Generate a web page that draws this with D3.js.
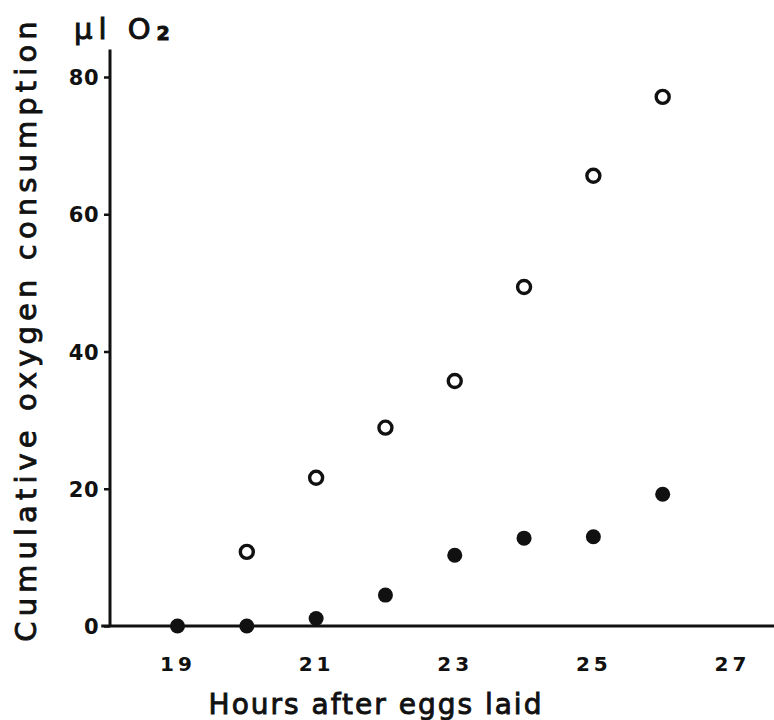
<!DOCTYPE html>
<html>
<head>
<meta charset="utf-8">
<script src="https://cdn.jsdelivr.net/npm/d3@7"></script>
<style>
  html, body { margin: 0; padding: 0; background: #fff; }
  svg text { font-family: "DejaVu Sans", sans-serif; fill: #111; }
</style>
</head>
<body>
<div id="chart"></div>
<script>
// hours after eggs laid, and the two oxygen series (µl O2)
const hours = [19, 20, 21, 22, 23, 24, 25, 26];
const openHours = [20, 21, 22, 23, 24, 25, 26];
const openValues = [10.8, 21.6, 28.9, 35.7, 49.4, 65.6, 77.1];
const filledValues = [0, 0, 1.1, 4.5, 10.3, 12.8, 13.0, 19.2];
const xTicks = [19, 21, 23, 25, 27];
const yTicks = [0, 20, 40, 60, 80];

const width = 774;
const height = 720;

const svg = d3.select("#chart")
    .append("svg")
    .attr("width", width)
    .attr("height", height);

const x = d3.scaleLinear().domain([19, 27]).range([177.5, 732]);
const y = d3.scaleLinear().domain([0, 80]).range([626, 77]);

// axis lines
svg.append("line")
    .attr("x1", x(17.9)).attr("x2", width)
    .attr("y1", y(0)).attr("y2", y(0))
    .attr("stroke", "#111").attr("stroke-width", 3);

svg.append("line")
    .attr("x1", 110).attr("x2", 110)
    .attr("y1", y(0) + 1).attr("y2", y(84))
    .attr("stroke", "#111").attr("stroke-width", 3);

// y ticks
const yAxis = svg.append("g")
    .attr("transform", "translate(110,0)")
    .call(d3.axisLeft(y).tickValues(yTicks).tickSize(6).tickPadding(5));
yAxis.select(".domain").remove();
yAxis.selectAll(".tick line").attr("stroke", "#111").attr("stroke-width", 2.5);
yAxis.selectAll("text")
    .style("font-size", "21px")
    .style("font-weight", "bold")
    .style("letter-spacing", "0.5px")
    .attr("dy", "0.36em");

// x ticks (labels only)
const xAxis = svg.append("g")
    .attr("transform", `translate(0,${y(0)})`)
    .call(d3.axisBottom(x).tickValues(xTicks).tickSize(0).tickPadding(31));
xAxis.select(".domain").remove();
xAxis.selectAll("text")
    .style("font-size", "20px")
    .style("font-weight", "bold")
    .style("letter-spacing", "4px");

// axis titles
svg.append("text")
    .attr("x", 376)
    .attr("y", 714)
    .attr("text-anchor", "middle")
    .style("font-size", "28px")
    .style("letter-spacing", "2px")
    .style("stroke", "#111")
    .style("stroke-width", "0.9px")
    .text("Hours after eggs laid");

svg.append("text")
    .attr("transform", "translate(36,329) rotate(-90)")
    .attr("text-anchor", "middle")
    .style("font-size", "29px")
    .style("letter-spacing", "5.1px")
    .style("stroke", "#111")
    .style("stroke-width", "0.9px")
    .text("Cumulative oxygen consumption");

svg.append("text")
    .attr("x", 74)
    .attr("y", 39)
    .style("font-size", "29px")
    .style("letter-spacing", "6px")
    .style("stroke", "#111")
    .style("stroke-width", "1px")
    .text("µl O")
    .append("tspan")
    .attr("dy", 1)
    .style("font-size", "19px")
    .style("font-weight", "bold")
    .text("2");

// points
svg.selectAll(".open")
    .data(openHours.map((h, i) => ({ h, v: openValues[i] })))
    .join("circle")
    .attr("class", "open")
    .attr("cx", d => x(d.h))
    .attr("cy", d => y(d.v))
    .attr("r", 6.5)
    .attr("fill", "#fff")
    .attr("stroke", "#111")
    .attr("stroke-width", 3.4);

svg.selectAll(".filled")
    .data(hours.map((h, i) => ({ h, v: filledValues[i] })))
    .join("circle")
    .attr("class", "filled")
    .attr("cx", d => x(d.h))
    .attr("cy", d => y(d.v))
    .attr("r", 7.5)
    .attr("fill", "#111");
</script>
</body>
</html>
